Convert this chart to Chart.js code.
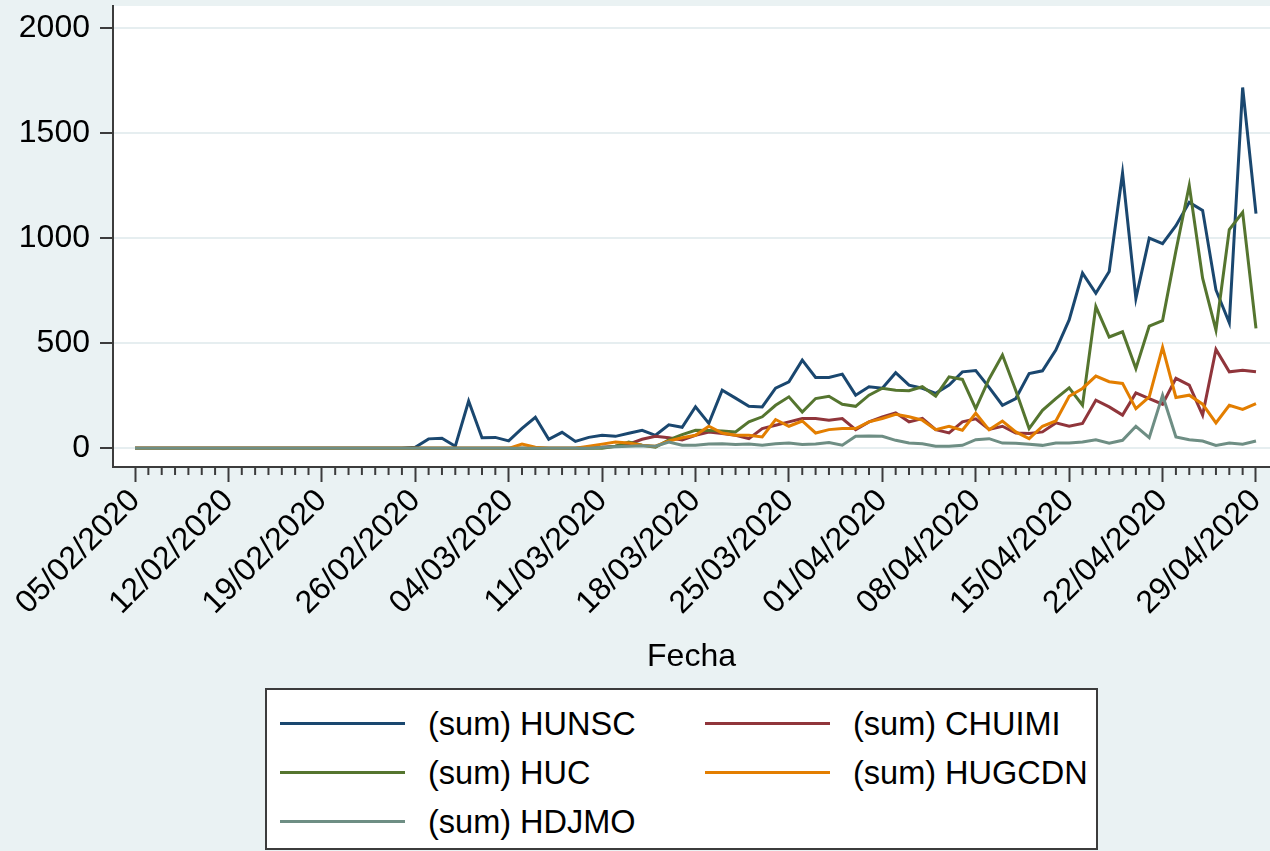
<!DOCTYPE html>
<html>
<head>
<meta charset="utf-8">
<script src="https://cdn.jsdelivr.net/npm/chart.js@4.4.1/dist/chart.umd.min.js"></script>
<style>
html, body { margin: 0; padding: 0; background: #eaf2f3; }
#wrap { position: relative; width: 1270px; height: 851px; overflow: hidden; }
#grafico { position: absolute; left: 0; top: 0; }
#leyenda {
    position: absolute; left: 265px; top: 688px; width: 829px; height: 158px;
    border: 2px solid #3c3c3c; background: #fff;
    font-family: "Liberation Sans", Arial, sans-serif; font-size: 32.5px; color: #000;
}
.item { position: absolute; height: 40px; width: 420px; }
.item .linea { position: absolute; left: 0; top: 18px; width: 125px; height: 3px; }
.item .txt { position: absolute; left: 148px; top: 0; line-height: 40px; white-space: nowrap; }
</style>
</head>
<body>
<div id="wrap">
    <canvas id="grafico" width="1270" height="680"></canvas>
    <div id="leyenda"></div>
</div>
<script>
// etiquetas del eje x (una cada 7 dias) y del eje y
const etiquetasX = ['05/02/2020', '12/02/2020', '19/02/2020', '26/02/2020', '04/03/2020', '11/03/2020', '18/03/2020',
    '25/03/2020', '01/04/2020', '08/04/2020', '15/04/2020', '22/04/2020', '29/04/2020'];
const ticksY = [0, 500, 1000, 1500, 2000];

// valores diarios 05/02/2020 .. 29/04/2020
const hunsc = [0, 0, 0, 0, 0, 0, 0, 0, 0, 0,
    0, 0, 0, 0, 0, 0, 0, 0, 0, 0,
    0, 5, 45, 48, 10, 225, 50, 52, 35, 95,
    148, 43, 76, 33, 52, 62, 57, 72, 86, 62,
    112, 100, 198, 119, 277, 239, 200, 197, 286, 317,
    420, 337, 337, 353, 253, 293, 286, 360, 301, 286,
    262, 301, 364, 370, 290, 205, 237, 356, 369, 468,
    611, 834, 738, 842, 1311, 714, 1001, 974, 1060, 1171,
    1133, 754, 598, 1718, 1117];
const chuimi = [0, 0, 0, 0, 0, 0, 0, 0, 0, 0,
    0, 0, 0, 0, 0, 0, 0, 0, 0, 0,
    0, 0, 0, 0, 0, 0, 0, 0, 0, 0,
    0, 0, 0, 0, 3, 5, 10, 20, 43, 57,
    50, 40, 62, 78, 71, 62, 46, 94, 110, 126,
    142, 142, 134, 142, 89, 126, 150, 169, 126, 142,
    89, 73, 126, 140, 90, 105, 73, 70, 78, 121,
    105, 118, 229, 197, 158, 264, 237, 210, 333, 301,
    158, 471, 364, 372, 364];
const huc = [0, 0, 0, 0, 0, 0, 0, 0, 0, 0,
    0, 0, 0, 0, 0, 0, 0, 0, 0, 0,
    0, 0, 0, 0, 0, 0, 0, 0, 0, 0,
    0, 0, 0, 0, 0, 0, 10, 30, 15, 5,
    40, 65, 86, 85, 83, 78, 126, 150, 205, 245,
    173, 237, 248, 210, 200, 253, 286, 277, 274, 293,
    248, 340, 328, 189, 330, 444, 275, 94, 181, 237,
    288, 205, 675, 530, 555, 380, 582, 608, 940, 1251,
    810, 563, 1041, 1123, 571];
const hugcdn = [0, 0, 0, 0, 0, 0, 0, 0, 0, 0,
    0, 0, 0, 0, 0, 0, 0, 0, 0, 0,
    0, 0, 0, 0, 0, 0, 0, 0, 0, 20,
    5, 0, 0, 0, 10, 20, 30, 25, 15, 10,
    35, 50, 62, 105, 73, 62, 62, 54, 137, 105,
    130, 73, 89, 94, 94, 126, 142, 162, 150, 134,
    89, 105, 86, 167, 88, 130, 78, 46, 105, 130,
    248, 285, 344, 317, 309, 189, 245, 481, 242, 253,
    210, 121, 205, 185, 213];
const hdjmo = [0, 0, 0, 0, 0, 0, 0, 0, 0, 0,
    0, 0, 0, 0, 0, 0, 0, 0, 0, 0,
    0, 0, 0, 0, 0, 0, 0, 0, 0, 0,
    0, 0, 0, 0, 0, 5, 8, 10, 12, 10,
    30, 15, 14, 20, 22, 18, 20, 15, 22, 25,
    18, 20, 28, 15, 57, 59, 57, 38, 25, 22,
    10, 10, 14, 41, 46, 25, 24, 19, 14, 25,
    25, 30, 41, 24, 38, 105, 51, 253, 54, 41,
    35, 14, 25, 19, 35];

const series = [
    { label: '(sum) HUNSC', data: hunsc, color: '#1a476f', order: 5 },
    { label: '(sum) CHUIMI', data: chuimi, color: '#90353b', order: 4 },
    { label: '(sum) HUC', data: huc, color: '#55752f', order: 3 },
    { label: '(sum) HUGCDN', data: hugcdn, color: '#e37e00', order: 2 },
    { label: '(sum) HDJMO', data: hdjmo, color: '#6e8e84', order: 1 }
];

const fuente = "'Liberation Sans', Arial, sans-serif";
const ejeColor = '#3c3c3c';

// fondo blanco de la zona del grafico + marcas menores del eje x
const zonaPlugin = {
    id: 'zona',
    beforeDraw(chart) {
        const a = chart.chartArea;
        const ctx = chart.ctx;
        ctx.save();
        ctx.fillStyle = '#ffffff';
        ctx.fillRect(a.left, a.top, a.right - a.left, a.bottom - a.top);
        ctx.restore();
    },
    afterDraw(chart) {
        const sx = chart.scales.x;
        const ctx = chart.ctx;
        const y0 = chart.chartArea.bottom;
        ctx.save();
        ctx.strokeStyle = ejeColor;
        ctx.lineWidth = 2;
        for (let i = 0; i < hunsc.length; i++) {
            if (i % 7 === 0) continue;
            const px = sx.getPixelForValue(i);
            ctx.beginPath();
            ctx.moveTo(px, y0);
            ctx.lineTo(px, y0 + 8);
            ctx.stroke();
        }
        ctx.restore();
    }
};

const ctx = document.getElementById('grafico');
new Chart(ctx, {
    type: 'line',
    data: {
        datasets: series.map(s => ({
            label: s.label,
            data: s.data.map((v, i) => ({ x: i, y: v })),
            borderColor: s.color,
            backgroundColor: s.color,
            borderWidth: 3,
            pointRadius: 0,
            tension: 0,
            order: s.order
        }))
    },
    options: {
        responsive: false,
        animation: false,
        layout: { padding: { top: 6, left: 0, right: 0, bottom: 0 } },
        plugins: { legend: { display: false }, tooltip: { enabled: false } },
        scales: {
            x: {
                type: 'linear',
                min: -1.65,
                max: 85.05,
                afterBuildTicks: s => { s.ticks = etiquetasX.map((t, k) => ({ value: k * 7 })); },
                afterFit: s => { s.height = 213; s.paddingLeft = 0; s.paddingRight = 0; },
                ticks: {
                    autoSkip: false,
                    minRotation: 45,
                    maxRotation: 45,
                    padding: 0,
                    color: '#000',
                    font: { family: fuente, size: 32 },
                    callback: v => etiquetasX[v / 7]
                },
                grid: { drawOnChartArea: false, drawTicks: true, tickLength: 15, tickColor: ejeColor, tickWidth: 2 },
                border: { display: true, color: ejeColor, width: 2 },
                title: { display: true, text: 'Fecha', color: '#000', font: { family: fuente, size: 32 }, padding: { top: 0, bottom: 4 } }
            },
            y: {
                min: -89,
                max: 2106,
                afterBuildTicks: s => { s.ticks = ticksY.map(v => ({ value: v })); },
                afterFit: s => { s.width = 113; s.paddingTop = 0; s.paddingBottom = 0; },
                ticks: { padding: 10, color: '#000', font: { family: fuente, size: 32 }, callback: v => String(v) },
                grid: { color: '#e6eef0', lineWidth: 2, tickLength: 13, tickColor: ejeColor, tickWidth: 2 },
                border: { display: true, color: ejeColor, width: 2 }
            }
        }
    },
    plugins: [zonaPlugin]
});

// leyenda en dos columnas, como en el original
const leyenda = document.getElementById('leyenda');
const posiciones = [[13, 14], [438, 14], [13, 63], [438, 63], [13, 112]];
series.forEach((s, k) => {
    const it = document.createElement('div');
    it.className = 'item';
    it.style.left = posiciones[k][0] + 'px';
    it.style.top = posiciones[k][1] + 'px';
    it.innerHTML = '<span class="linea" style="background:' + s.color + '"></span><span class="txt">' + s.label + '</span>';
    leyenda.appendChild(it);
});
</script>
</body>
</html>
